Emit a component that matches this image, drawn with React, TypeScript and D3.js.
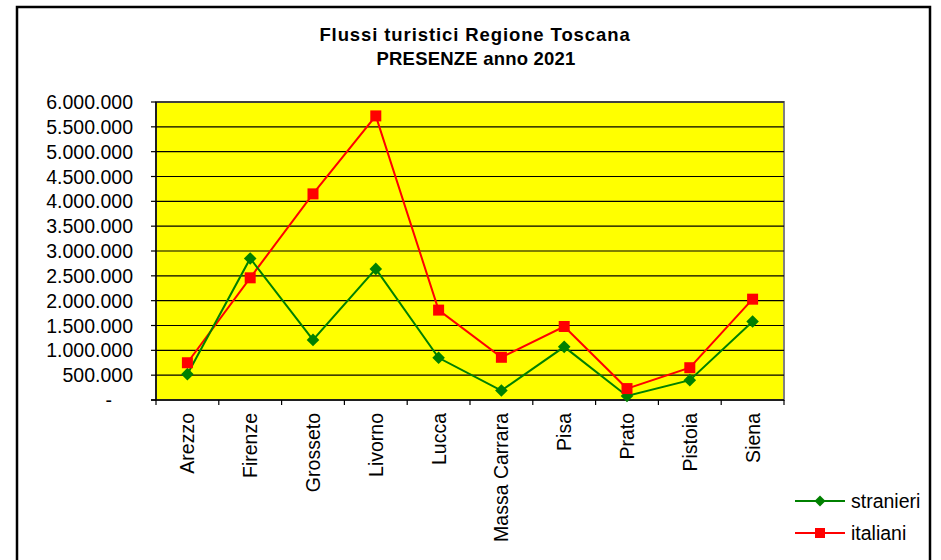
import React from "react";
import * as d3 from "d3";

const categories = ["Arezzo", "Firenze", "Grosseto", "Livorno", "Lucca", "Massa Carrara", "Pisa", "Prato", "Pistoia", "Siena"];
const stranieri = [520000, 2850000, 1210000, 2640000, 850000, 190000, 1070000, 80000, 400000, 1580000];
const italiani = [750000, 2460000, 4150000, 5720000, 1810000, 860000, 1480000, 230000, 650000, 2030000];
const yTicks = [0, 500000, 1000000, 1500000, 2000000, 2500000, 3000000, 3500000, 4000000, 4500000, 5000000, 5500000, 6000000];
const titleLines = ["Flussi turistici Regione Toscana", "PRESENZE anno 2021"];
const seriesNames = ["stranieri", "italiani"];

const W = 941, H = 560;
const plot = { left: 156, right: 784, top: 102, bottom: 400 };
const font = "Arial, 'Liberation Sans', sans-serif";

const fmt = (v: number) => (v === 0 ? "-" : d3.format(",")(v).replace(/,/g, "."));

export default function App() {
  const x = d3.scaleBand<string>().domain(categories).range([plot.left, plot.right]);
  const y = d3.scaleLinear().domain([0, 6000000]).range([plot.bottom, plot.top]);
  const cx = (c: string) => (x(c) as number) + x.bandwidth() / 2;
  const line = d3.line<number>().x((_, i) => cx(categories[i])).y((v) => y(v));
  const green = "#008000";
  const red = "#FF0000";
  const diamond = (px: number, py: number, r = 6.3) =>
    `M${px},${py - r}L${px + r},${py}L${px},${py + r}L${px - r},${py}Z`;

  return (
    <svg width={W} height={H} style={{ position: "absolute", left: 0, top: 0, background: "#fff" }} fontFamily={font}>
      <rect x={17} y={7} width={913} height={600} fill="#fff" stroke="#000" strokeWidth={2.5} />
      <text x={475} y={41} textAnchor="middle" fontWeight="bold" fontSize={18.5} letterSpacing={0.9} fill="#000">
        {titleLines[0]}
      </text>
      <text x={476} y={65} textAnchor="middle" fontWeight="bold" fontSize={18.5} letterSpacing={0.2} fill="#000">
        {titleLines[1]}
      </text>
      <rect x={plot.left} y={plot.top} width={plot.right - plot.left} height={plot.bottom - plot.top} fill="#FFFF00" stroke="#808080" strokeWidth={2} />
      {yTicks.filter((t) => t > 0).map((t) => (
        <line key={"g" + t} x1={plot.left} x2={plot.right} y1={y(t)} y2={y(t)} stroke="#000" strokeWidth={1.2} />
      ))}
      <line x1={plot.left} x2={plot.left} y1={plot.top} y2={plot.bottom} stroke="#000" strokeWidth={1.5} />
      <line x1={plot.left - 5} x2={plot.right} y1={plot.bottom} y2={plot.bottom} stroke="#000" strokeWidth={1.5} />
      {yTicks.map((t) => (
        <g key={"y" + t}>
          <line x1={plot.left - 5} x2={plot.left} y1={y(t)} y2={y(t)} stroke="#000" strokeWidth={1.2} />
          <text x={t === 0 ? 112 : 133} y={y(t)} dy="0.36em" textAnchor="end" fontSize={19.5} fill="#000">
            {fmt(t)}
          </text>
        </g>
      ))}
      {categories.map((c) => (
        <line key={"xt" + c} x1={x(c) as number} x2={x(c) as number} y1={plot.bottom} y2={plot.bottom + 5} stroke="#000" strokeWidth={1.2} />
      ))}
      <line x1={plot.right} x2={plot.right} y1={plot.bottom} y2={plot.bottom + 5} stroke="#000" strokeWidth={1.2} />
      {categories.map((c) => (
        <text key={"xl" + c} transform={`translate(${cx(c) + 7},413) rotate(-90)`} textAnchor="end" fontSize={19.5} fill="#000">
          {c}
        </text>
      ))}
      <path d={line(italiani) || ""} fill="none" stroke={red} strokeWidth={2} />
      <path d={line(stranieri) || ""} fill="none" stroke={green} strokeWidth={2} />
      {stranieri.map((v, i) => (
        <path key={"sd" + i} d={diamond(cx(categories[i]), y(v))} fill={green} />
      ))}
      {italiani.map((v, i) => (
        <rect key={"ir" + i} x={cx(categories[i]) - 5.5} y={y(v) - 5.5} width={11} height={11} fill={red} />
      ))}
      <g>
        <line x1={795} x2={845} y1={501} y2={501} stroke={green} strokeWidth={2} />
        <path d={diamond(820, 501, 5.5)} fill={green} />
        <text x={851} y={501} dy="0.36em" fontSize={19.5} fill="#000">{seriesNames[0]}</text>
        <line x1={795} x2={845} y1={533} y2={533} stroke={red} strokeWidth={2} />
        <rect x={815} y={528} width={10} height={10} fill={red} />
        <text x={851} y={533} dy="0.36em" fontSize={19.5} fill="#000">{seriesNames[1]}</text>
      </g>
    </svg>
  );
}
